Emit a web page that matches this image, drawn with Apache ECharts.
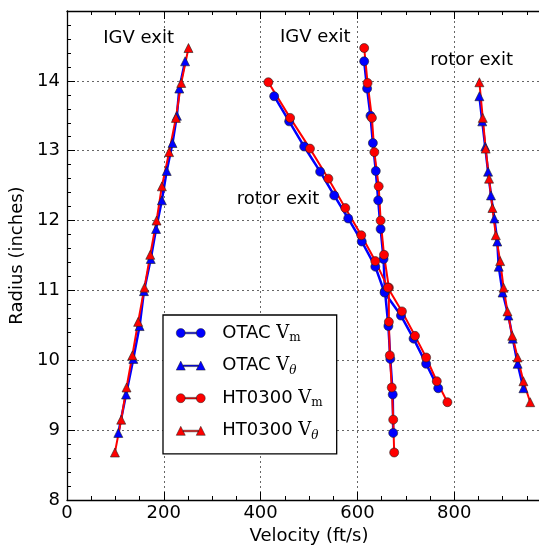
<!DOCTYPE html>
<html><head><meta charset="utf-8">
<script src="https://cdn.jsdelivr.net/npm/echarts@6/dist/echarts.min.js"></script>
<style>html,body{margin:0;padding:0;background:#fff;overflow:hidden}#c{width:539px;height:546px}</style>
</head><body><div id="c"></div>
<script>
// ---- data (velocity ft/s vs radius inches) ----
const igvRadiusHT   = [14.47, 13.97, 13.47, 12.98, 12.49, 12.00, 11.51, 11.04, 10.55, 10.07, 9.61, 9.15, 8.68];
const igvVmHT       = [614, 621, 630, 635, 644, 648, 655, 665, 665, 667, 671, 674, 676];
const igvVthHT      = [251, 236, 225, 211, 196, 185, 172, 160, 147, 135, 123, 112, 99];
const rotorRadiusHT = [13.98, 13.47, 13.03, 12.60, 12.18, 11.79, 11.42, 11.04, 10.70, 10.35, 10.04, 9.70, 9.40];
const rotorVmHT     = [416, 461, 502, 540, 575, 608, 637, 663, 692, 719, 742, 764, 786];
const rotorVthHT    = [852, 859, 865, 872, 879, 886, 895, 902, 910, 920, 931, 943, 957];

const igvRadiusOTAC   = [14.28, 13.89, 13.50, 13.11, 12.71, 12.29, 11.88, 11.45, 10.99, 10.49, 10.02, 9.51, 8.96];
const igvVmOTAC       = [614, 620, 627, 632, 638, 643, 648, 654, 657, 664, 668, 673, 674];
const igvVthOTAC      = [244, 232, 227, 218, 206, 196, 184, 173, 159, 150, 137, 122, 106];
const rotorRadiusOTAC = [13.78, 13.42, 13.06, 12.70, 12.36, 12.03, 11.70, 11.34, 10.97, 10.64, 10.31, 9.95, 9.60];
const rotorVmOTAC     = [428, 459, 490, 523, 552, 581, 609, 637, 656, 690, 716, 742, 767];
const rotorVthOTAC    = [852, 858, 864, 870, 876, 883, 889, 892, 900, 912, 921, 931, 943];

const seriesNames = ['OTAC Vm', 'OTAC V\u03b8', 'HT0300 Vm', 'HT0300 V\u03b8'];
const annotations = [
  {text: 'IGV exit',   x: 148, y: 14.61},
  {text: 'IGV exit',   x: 513, y: 14.62},
  {text: 'rotor exit', x: 836, y: 14.30},
  {text: 'rotor exit', x: 436, y: 12.30}
];
const xAxisName = 'Velocity (ft/s)';
const yAxisName = 'Radius (inches)';

// ---- build ----
const FONT = 'DejaVu Sans';
const pair = (xs, ys) => xs.map((v, i) => [v, ys[i]]);
const BLUE = '#0000ff', RED = '#ff0000';
function mk(name, color, symbol, xs, ys, lw) {
  return {
    type: 'line', name, data: pair(xs, ys),
    symbol, symbolSize: 9, showAllSymbol: true,
    lineStyle: {color, width: lw},
    itemStyle: {color, borderColor: '#222', borderWidth: 0.6},
    emphasis: {disabled: true}, animation: false
  };
}
const series = [
  mk(seriesNames[0], BLUE, 'circle',   igvVmOTAC,   igvRadiusOTAC,   2.5),
  mk(seriesNames[0], BLUE, 'circle',   rotorVmOTAC, rotorRadiusOTAC, 2.5),
  mk(seriesNames[1], BLUE, 'triangle', igvVthOTAC,  igvRadiusOTAC,   2.5),
  mk(seriesNames[1], BLUE, 'triangle', rotorVthOTAC, rotorRadiusOTAC, 2.5),
  mk(seriesNames[2], RED,  'circle',   igvVmHT,     igvRadiusHT,     2),
  mk(seriesNames[2], RED,  'circle',   rotorVmHT,   rotorRadiusHT,   2),
  mk(seriesNames[3], RED,  'triangle', igvVthHT,    igvRadiusHT,     2),
  mk(seriesNames[3], RED,  'triangle', rotorVthHT,  rotorRadiusHT,   2)
];

const circIcon = 'path://M0,4.5A4.5,4.5,0,1,1,9,4.5A4.5,4.5,0,1,1,0,4.5Z M20,4.5A4.5,4.5,0,1,1,29,4.5A4.5,4.5,0,1,1,20,4.5Z M9,3.7L20,3.7L20,5.3L9,5.3Z';
const triIcon = 'path://M0,9L4.5,0L9,9Z M20,9L24.5,0L29,9Z M6.9,3.9L22.1,3.9L22.1,5.5L6.9,5.5Z';

const axisLineStyle = {color: '#000', width: 1.3};
const gridSplit = {show: true, lineStyle: {color: '#666', type: [2, 3], width: 1}};

const option = {
  animation: false,
  backgroundColor: '#fff',
  grid: {left: 67, top: 11, width: 484, height: 489, containLabel: false, outerBoundsMode: 'none'},
  xAxis: [{
    type: 'value', min: 0, max: 1000, interval: 200, position: 'bottom',
    name: xAxisName, nameLocation: 'middle', nameGap: 13,
    nameTextStyle: {fontFamily: FONT, fontSize: 18, color: '#000'},
    axisLine: {show: true, lineStyle: axisLineStyle},
    axisTick: {show: true, inside: true, length: 8, lineStyle: {color: '#000', width: 1}},
    minorTick: {show: true, splitNumber: 4, length: 4, lineStyle: {color: '#000', width: 1}},
    axisLabel: {fontFamily: FONT, fontSize: 18, color: '#000', margin: 4, showMaxLabel: false},
    splitLine: gridSplit
  }, {
    type: 'value', min: 0, max: 1000, interval: 200, position: 'top',
    axisLine: {show: true, onZero: false, lineStyle: axisLineStyle},
    axisTick: {show: true, inside: true, length: 8, lineStyle: {color: '#000', width: 1}},
    minorTick: {show: true, splitNumber: 4, length: 4, lineStyle: {color: '#000', width: 1}},
    axisLabel: {show: false}, splitLine: {show: false}
  }],
  yAxis: [{
    type: 'value', min: 8, max: 15, interval: 1, position: 'left',
    name: yAxisName, nameLocation: 'middle', nameGap: 31, nameRotate: 90,
    nameTextStyle: {fontFamily: FONT, fontSize: 18, color: '#000'},
    axisLine: {show: true, lineStyle: axisLineStyle},
    axisTick: {show: true, inside: true, length: 8, lineStyle: {color: '#000', width: 1}},
    minorTick: {show: true, splitNumber: 5, length: 4, lineStyle: {color: '#000', width: 1}},
    axisLabel: {fontFamily: FONT, fontSize: 18, color: '#000', margin: 7, showMaxLabel: false},
    splitLine: gridSplit
  }, {
    type: 'value', min: 8, max: 15, interval: 1, position: 'right',
    axisLine: {show: true, onZero: false, lineStyle: axisLineStyle},
    axisTick: {show: true, inside: true, length: 8},
    axisLabel: {show: false}, splitLine: {show: false}
  }],
  legend: {
    orient: 'vertical', left: 163, top: 315,
    padding: [9, 14, 12, 13], itemGap: 12.6,
    itemWidth: 29, itemHeight: 9,
    backgroundColor: '#fff', borderColor: '#000', borderWidth: 1.3,
    selectedMode: false,
    data: [
      {name: seriesNames[0], icon: circIcon},
      {name: seriesNames[1], icon: triIcon},
      {name: seriesNames[2], icon: circIcon},
      {name: seriesNames[3], icon: triIcon}
    ],
    itemStyle: {borderColor: '#222', borderWidth: 0.5},
    formatter: function (name) {
      const parts = name.split(' ');
      const sub = parts[1].slice(1);
      return '{a|' + parts[0] + ' }{v|V}{' + (sub === 'm' ? 's' : 't') + '|' + sub + '}';
    },
    textStyle: {
      padding: [0, 0, 0, 12],
      rich: {
        a: {fontFamily: FONT, fontSize: 18, color: '#000', lineHeight: 22, verticalAlign: 'middle'},
        v: {fontFamily: 'DejaVu Serif', fontSize: 18, color: '#000', lineHeight: 22, verticalAlign: 'middle'},
        s: {fontFamily: 'DejaVu Serif', fontSize: 12, color: '#000', lineHeight: 8, verticalAlign: 'bottom'},
        t: {fontFamily: 'DejaVu Serif', fontStyle: 'italic', fontSize: 12, color: '#000', lineHeight: 8, verticalAlign: 'bottom'}
      }
    }
  },
  series: series
};

const chart = echarts.init(document.getElementById('c'), null, {renderer: 'canvas'});
chart.setOption(option);

const graphics = annotations.map(a => {
  const p = chart.convertToPixel({xAxisIndex: 0, yAxisIndex: 0}, [a.x, a.y]);
  return {
    type: 'text', x: p[0], y: p[1], z: 100,
    style: {text: a.text, fontFamily: FONT, fontSize: 18, fill: '#000', align: 'center', verticalAlign: 'middle'}
  };
});
chart.setOption({graphic: graphics});
</script>
</body></html>
